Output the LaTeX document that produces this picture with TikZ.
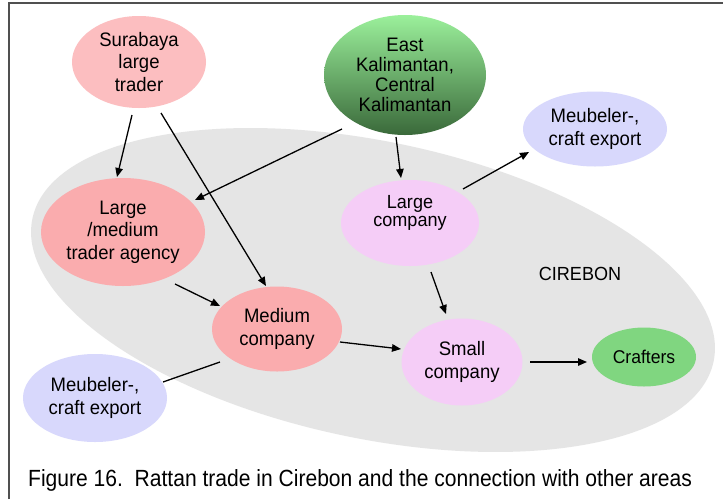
\documentclass[tikz,border=0pt]{standalone}
\usepackage{fontspec}
\setmainfont{Liberation Sans}[FakeStretch=0.95]
\newfontfamily\capfont{Liberation Sans}[FakeStretch=0.9]
\usetikzlibrary{arrows.meta,calc,shapes.geometric}
\definecolor{cgray}{RGB}{229,229,229}
\definecolor{pinkA}{RGB}{252,190,192}
\definecolor{pinkB}{RGB}{250,172,174}
\definecolor{lav}{RGB}{216,216,252}
\definecolor{viol}{RGB}{245,205,247}
\definecolor{crgreen}{RGB}{128,214,128}
\definecolor{ekTop}{RGB}{155,240,155}
\definecolor{ekBot}{RGB}{58,105,58}
\definecolor{framec}{RGB}{80,80,80}
\begin{document}
\begin{tikzpicture}[x=1pt,y=-1pt,
  bub/.style={ellipse,inner sep=0pt,outer sep=0pt,align=center,font=\fontsize{19.5}{22.5}\selectfont},
  arr/.style={line width=1.3pt,-{Triangle[length=9pt,width=7.5pt]}},
  con/.style={line width=1.3pt}]
\useasboundingbox (0,0) rectangle (723,499);
\fill[white] (0,0) rectangle (723,499);
\draw[framec,line width=2pt] (9,499) -- (9,3) -- (723,3);
\fill[cgray,rotate around={-11.85:(373,290)}] (373,290) ellipse [x radius=348pt,y radius=148.5pt];
% nodes
\node[bub,fill=pinkA,minimum width=134pt,minimum height=92pt] (sur) at (139,62) {Surabaya\\large\\trader};
\node[bub,top color=ekTop,bottom color=ekBot,minimum width=162pt,minimum height=120pt,font=\fontsize{19.5}{20}\selectfont] (ek) at (405,75) {East\\Kalimantan,\\Central\\Kalimantan};
\node[bub,fill=lav,minimum width=144pt,minimum height=75pt] (mtr) at (595,129) {Meubeler-,\\craft export};
\node[bub,fill=viol,minimum width=138pt,minimum height=86pt] (lc) at (410,223) {};
\node[align=center,inner sep=0pt,font=\fontsize{19}{18}\selectfont] (lctext) at ($(lc)+(0,-10)$) {Large\\company};
\node[bub,fill=pinkB,minimum width=164pt,minimum height=108pt] (lm) at (123,232) {Large\\/medium\\trader agency};
\node[bub,fill=pinkB,minimum width=130pt,minimum height=85pt] (med) at (277,329) {Medium\\company};
\node[bub,fill=lav,minimum width=144pt,minimum height=88pt] (mbl) at (95,398) {Meubeler-,\\craft export};
\node[bub,fill=viol,minimum width=121pt,minimum height=87pt] (sc) at (462,362) {Small\\company};
\node[bub,fill=crgreen,minimum width=104pt,minimum height=59pt,font=\fontsize{18.5}{20}\selectfont] (cr) at (644,357) {Crafters};
\node[inner sep=0pt,font=\fontsize{19}{20}\selectfont] (cir) at (580,274) {CIREBON};
\node[anchor=base west,inner sep=0pt,font=\capfont\fontsize{23.4}{26}\selectfont] (cap) at (28,486) {Figure 16.\ \ Rattan trade in Cirebon and the connection with other areas};
% connectors
\draw[arr] ($(sur)+(-7,53)$) -- ($(lm)+(-6,-55)$);
\draw[arr] ($(sur)+(22,51)$) -- ($(med)+(-11,-43)$);
\draw[arr] ($(ek)+(-63,54)$) -- ($(lm)+(72,-32)$);
\draw[arr] ($(ek)+(-9,62)$) -- ($(lc)+(-9,-45)$);
\draw[arr] ($(lc)+(53,-34)$) -- ($(mtr)+(-66,23)$);
\draw[arr] ($(lc)+(21,49)$) -- ($(sc)+(-16,-48)$);
\draw[arr] ($(lm)+(52,52)$) -- ($(med)+(-57,-23)$);
\draw[arr] ($(med)+(63,13)$) -- ($(sc)+(-61,-13)$);
\draw[arr] ($(sc)+(68,0)$) -- ($(cr)+(-57,5)$);
\draw[con] ($(mbl)+(68,-16)$) -- ($(med)+(-57,33)$);
\end{tikzpicture}
\end{document}
